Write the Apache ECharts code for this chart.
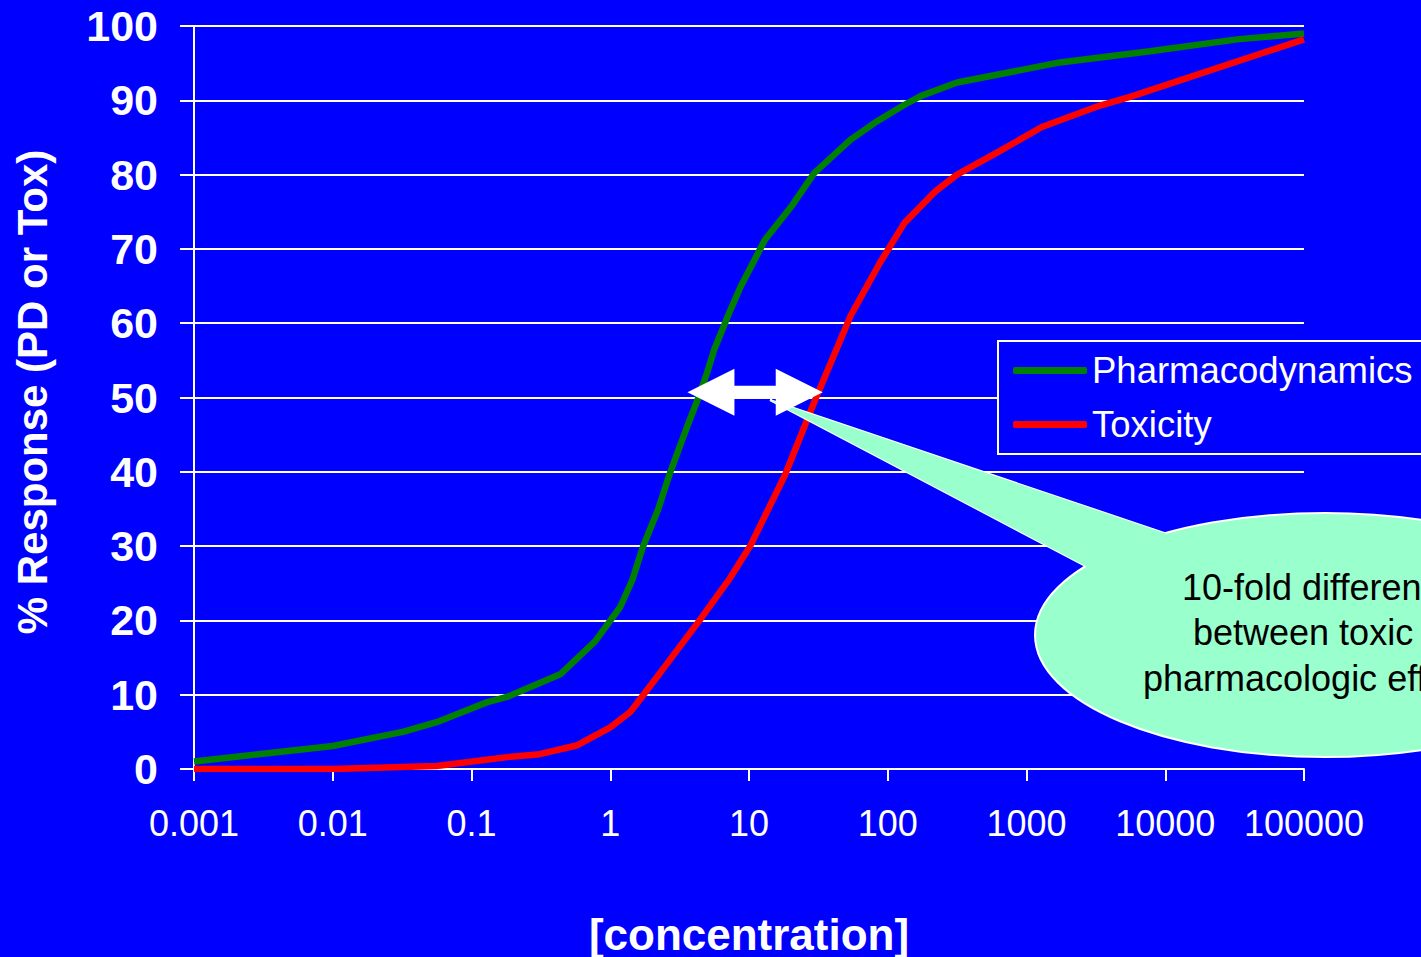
<!DOCTYPE html>
<html>
<head>
<meta charset="utf-8">
<script src="https://cdn.jsdelivr.net/npm/echarts@6/dist/echarts.min.js"></script>
<style>
  html, body { margin: 0; padding: 0; background: #0000ff; }
  #chart { width: 1421px; height: 957px; }
</style>
</head>
<body>
<div id="chart"></div>
<script>
// concentration (log axis) vs % response
const pdConc = [0.001, 0.01, 0.032, 0.056, 0.13, 0.18, 0.44, 0.78, 1.18, 1.44, 1.72, 2.21, 2.69, 3.57, 4.3, 5.0, 5.6, 7.2, 8.7, 13, 20, 29.5, 54, 81, 132, 174, 316, 1740, 7760, 33000, 100000];
const pdResp = [1.0, 3.1, 5.0, 6.3, 9.0, 9.7, 12.8, 17.2, 21.8, 25.4, 29.9, 34.9, 39.8, 46.0, 49.9, 53.4, 56.4, 61.4, 64.9, 71.2, 75.6, 80.2, 84.7, 87, 89.4, 90.6, 92.4, 95.1, 96.6, 98.2, 99];

const toxConc = [0.001, 0.01, 0.056, 0.18, 0.31, 0.58, 1.0, 1.4, 2.3, 4.4, 7.3, 10.2, 18.2, 30, 54, 87, 132, 219, 316, 645, 1290, 3160, 5650, 100000];
const toxResp = [0, 0, 0.4, 1.6, 2.0, 3.2, 5.6, 7.7, 13, 20, 25.7, 30, 39.6, 49.7, 61, 68, 73.5, 77.7, 80, 83.2, 86.4, 89.1, 90.5, 98.2];

const xTickLabels = ["0.001", "0.01", "0.1", "1", "10", "100", "1000", "10000", "100000"];

// the double arrow spans the 10-fold gap at ~50 %
const arrowFrom = 3.6;
const arrowTo = 34;
const arrowLevel = 50.7;

const calloutLines = ["10-fold difference", "between toxic &", "pharmacologic effects"];

const font = "'Liberation Sans', Arial, sans-serif";

const chart = echarts.init(document.getElementById("chart"), null, { renderer: "svg" });

const option = {
  backgroundColor: "#0000ff",
  animation: false,
  grid: { left: 194, right: 117, top: 26, bottom: 188, containLabel: false, outerBoundsMode: "none" },
  legend: {
    orient: "vertical",
    left: 998,
    top: 341,
    padding: [11, 30, 11, 15],
    itemGap: 17,
    itemWidth: 74,
    itemHeight: 7,
    borderColor: "#ffffff",
    borderWidth: 2,
    backgroundColor: "#0000ff",
    textStyle: { color: "#ffffff", fontSize: 36.5, fontFamily: font },
    data: [
      { name: "Pharmacodynamics", icon: "roundRect" },
      { name: "Toxicity", icon: "roundRect" },
    ],
  },
  xAxis: {
    type: "log",
    logBase: 10,
    min: 0.001,
    max: 100000,
    name: "[concentration]",
    nameLocation: "middle",
    nameGap: 143,
    nameTextStyle: { color: "#ffffff", fontSize: 44, fontWeight: "bold", fontFamily: font },
    axisLine: { show: true, lineStyle: { color: "#ffffff", width: 2 } },
    axisTick: { show: true, length: 12, lineStyle: { color: "#ffffff", width: 2 } },
    axisLabel: {
      color: "#ffffff",
      fontSize: 36,
      fontFamily: font,
      margin: 36,
      formatter: (v) => xTickLabels[Math.round(Math.log10(v)) + 3],
    },
    splitLine: { show: false },
    minorTick: { show: false },
  },
  yAxis: {
    type: "value",
    min: 0,
    max: 100,
    interval: 10,
    name: "% Response (PD or Tox)",
    nameLocation: "middle",
    nameGap: 141,
    nameTextStyle: { color: "#ffffff", fontSize: 42, fontWeight: "bold", fontFamily: font, padding: [0, 0, 0, 11] },
    axisLine: { show: true, lineStyle: { color: "#ffffff", width: 2 } },
    axisTick: { show: true, length: 14, lineStyle: { color: "#ffffff", width: 2 } },
    axisLabel: { color: "#ffffff", fontSize: 43, fontWeight: "bold", fontFamily: font, margin: 36 },
    splitLine: { show: true, lineStyle: { color: "#ffffff", width: 2 } },
  },
  series: [
    {
      name: "Pharmacodynamics",
      type: "line",
      color: "#008000",
      showSymbol: false,
      lineStyle: { width: 6.5, color: "#008000" },
      data: pdConc.map((c, i) => [c, pdResp[i]]),
    },
    {
      name: "Toxicity",
      type: "line",
      color: "#ff0000",
      showSymbol: false,
      lineStyle: { width: 6.5, color: "#ff0000" },
      data: toxConc.map((c, i) => [c, toxResp[i]]),
    },
  ],
};
chart.setOption(option);

// callout bubble + arrow laid over the plot
const left = chart.convertToPixel({ gridIndex: 0 }, [arrowFrom, arrowLevel]);
const right = chart.convertToPixel({ gridIndex: 0 }, [arrowTo, arrowLevel]);
const L = left[0], R = right[0], cy = left[1];
const head = 47, hh = 23.5, sh = 6.5;
const arrowPts = [
  [L, cy], [L + head, cy - hh], [L + head, cy - sh], [R - head, cy - sh], [R - head, cy - hh],
  [R, cy], [R - head, cy + hh], [R - head, cy + sh], [L + head, cy + sh], [L + head, cy + hh],
];
const tail = [[770, 400], [1200, 545], [1110, 579]];
const mint = "#99ffcc";
const calloutFont = "36px " + font;

chart.setOption({
  graphic: [
    { type: "polygon", z: 20, shape: { points: tail }, style: { fill: mint, stroke: "#ffffff", lineWidth: 2 } },
    { type: "ellipse", z: 21, shape: { cx: 1325, cy: 635, rx: 290, ry: 122 }, style: { fill: mint, stroke: "#ffffff", lineWidth: 2 } },
    { type: "polygon", z: 22, shape: { points: tail }, style: { fill: mint } },
    { type: "text", z: 23, x: 1182, y: 587, style: { text: calloutLines[0], fill: "#000", font: calloutFont, textVerticalAlign: "middle" } },
    { type: "text", z: 23, x: 1193, y: 632, style: { text: calloutLines[1], fill: "#000", font: calloutFont, textVerticalAlign: "middle" } },
    { type: "text", z: 23, x: 1143, y: 678, style: { text: calloutLines[2], fill: "#000", font: calloutFont, textVerticalAlign: "middle" } },
    { type: "polygon", z: 24, shape: { points: arrowPts }, style: { fill: "#ffffff" } },
  ],
});
</script>
</body>
</html>
